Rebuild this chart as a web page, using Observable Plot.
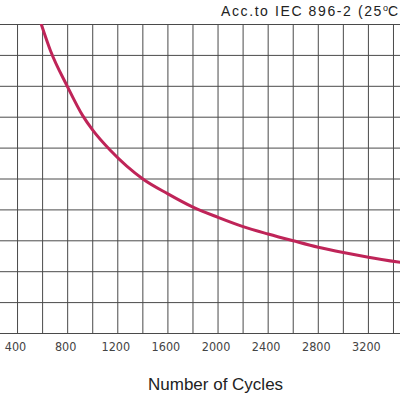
<!DOCTYPE html>
<html>
<head>
<meta charset="utf-8">
<script src="https://cdn.jsdelivr.net/npm/d3@7"></script>
<script src="https://cdn.jsdelivr.net/npm/@observablehq/plot@0.6"></script>
<style>
  html, body { margin: 0; padding: 0; background: #fff; }
  #wrap { width: 400px; height: 400px; overflow: hidden; position: relative; font-family: "Liberation Sans", Arial, sans-serif; }
  #title { height: 23px; box-sizing: border-box; padding-top: 3px; padding-left: 221px; font-size: 14px; line-height: 1.2; letter-spacing: 1.6px; color: #222; white-space: nowrap; overflow: hidden; }
  #title .deg { font-size: 9px; position: relative; top: -5px; letter-spacing: 0; }
  #caption { box-sizing: border-box; padding-top: 12px; padding-left: 148px; font-size: 17px; line-height: 1.2; color: #222; white-space: nowrap; }
  svg { display: block; }
</style>
</head>
<body>
<div id="wrap">
  <div id="title">Acc.to IEC 896-2 (25<span class="deg">o</span>C</div>
  <div id="chart"></div>
  <div id="caption">Number of Cycles</div>
</div>
<script>
// Data
const cycles   = [590, 663, 797, 920, 1000, 1142, 1400, 1600, 1800, 2000, 2200, 2400, 2600, 2800, 3000, 3200, 3456];
const capacity = [100, 91.5, 80, 70.5, 65.8, 59.2, 50, 45.2, 40.9, 37.6, 34.6, 32.2, 30, 27.9, 26.2, 24.7, 23];

// Grid and tick labels
const xGridLines = [400, 600, 800, 1000, 1200, 1400, 1600, 1800, 2000, 2200, 2400, 2600, 2800, 3000, 3200, 3400];
const yGridLines = [0, 10, 20, 30, 40, 50, 60, 70, 80, 90, 100];
const xTickLabels = [400, 800, 1200, 1600, 2000, 2400, 2800, 3200];

const data = cycles.map((c, i) => ({cycles: c, value: capacity[i]}));

const chart = Plot.plot({
  width: 400,
  height: 340,
  marginTop: 1,
  marginBottom: 30,
  marginLeft: 0,
  marginRight: 0,
  style: {fontFamily: "'Liberation Sans', Arial, sans-serif", background: "#fff"},
  x: {domain: [264, 3456], axis: null},
  y: {domain: [0, 100], axis: null},
  marks: [
    Plot.ruleX(xGridLines, {stroke: "#4a4a4a", strokeWidth: 1}),
    Plot.ruleY(yGridLines, {stroke: "#4a4a4a", strokeWidth: 1}),
    Plot.line(data, {x: "cycles", y: "value", stroke: "#bf2458", strokeWidth: 3, curve: "monotone-x", clip: true}),
    Plot.axisX(xTickLabels, {
      tickSize: 0, tickPadding: 9, fontSize: 12.5, fill: "#444", dx: -2,
      tickFormat: d => String(d),
      fontFamily: "'Liberation Sans Narrow', 'DejaVu Sans Condensed', 'Liberation Sans', Arial, sans-serif",
      label: null
    })
  ]
});
document.getElementById("chart").appendChild(chart);
</script>
</body>
</html>
